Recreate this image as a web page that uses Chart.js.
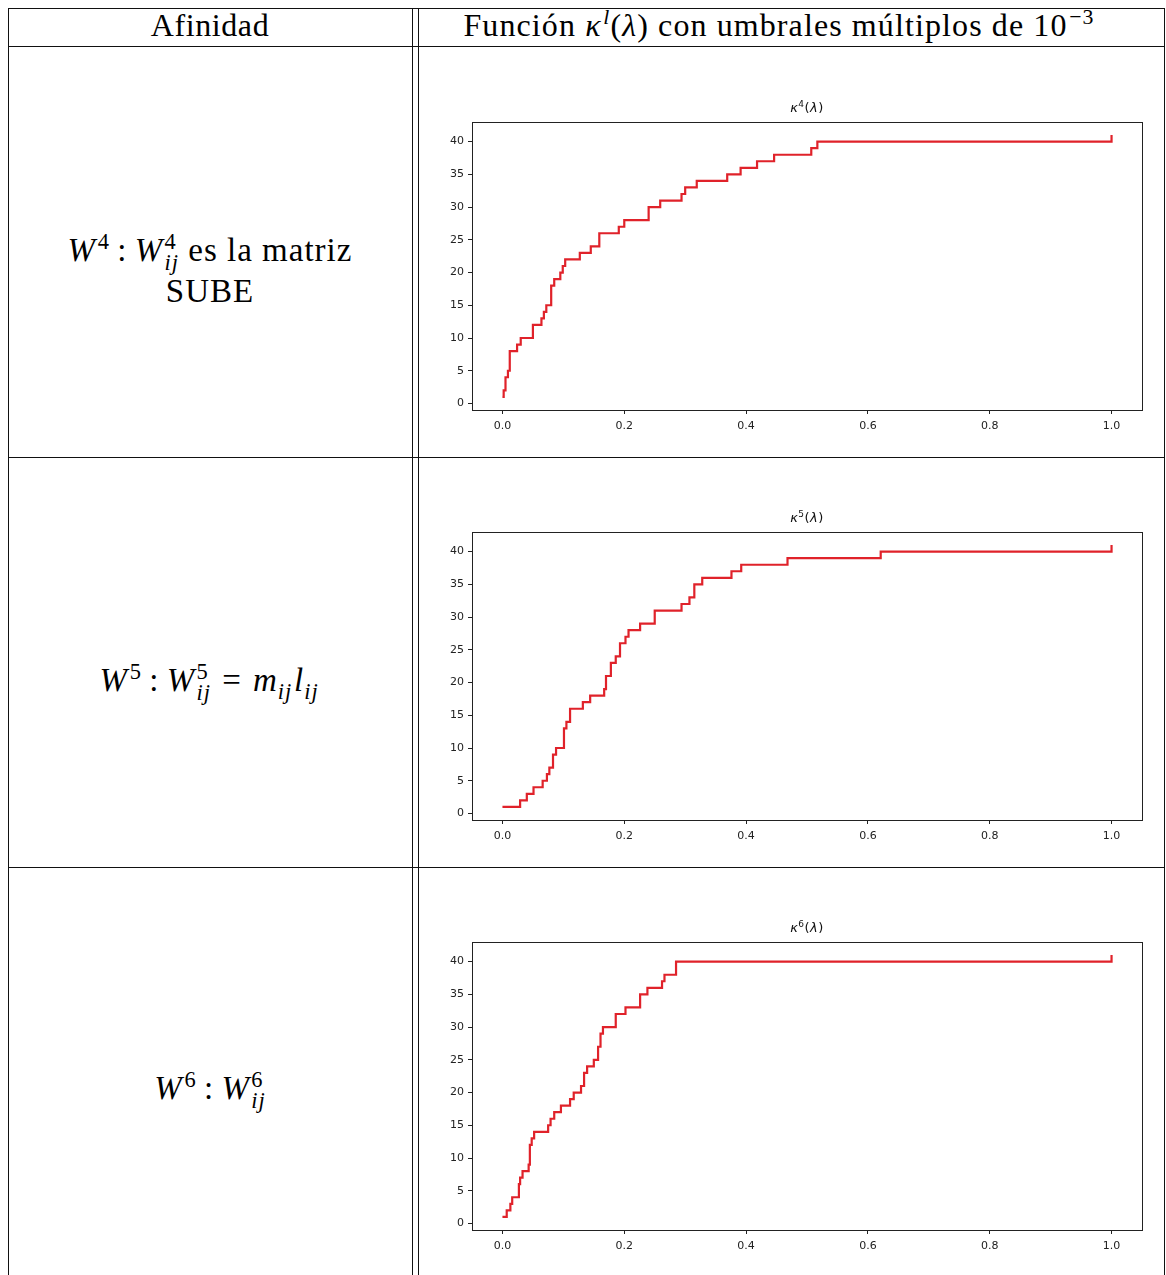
<!DOCTYPE html>
<html lang="es">
<head>
    <meta charset="UTF-8">
    <title>Afinidad y función kappa</title>
    <script src="https://cdn.jsdelivr.net/npm/chart.js"></script>
    <style>
        body {
            margin: 0;
            background: #ffffff;
            width: 1166px;
            height: 1275px;
            overflow: hidden;
            position: relative;
            font-family: "Liberation Serif", "DejaVu Serif", serif;
            color: #000;
        }

        .hline, .vline {
            position: absolute;
            background: #111;
        }
        .hline { height: 1px; }
        .vline { width: 1px; }

        .txt {
            position: absolute;
            text-align: center;
            font-size: 32px;
            letter-spacing: 0.6px;
            line-height: 37px;
            white-space: nowrap;
        }
        .lbl { font-size: 33px; letter-spacing: 1px; line-height: 35px; }

        .ss {
            display: inline-block;
            vertical-align: -0.42em;
            font-size: 0.68em;
            line-height: 0.95;
            text-align: left;
            margin-left: 0.06em;
        }
        .ss span { display: block; }
        sup { font-size: 0.68em; vertical-align: 0.55em; line-height: 0; margin-left: 0.08em; }
        sub { font-size: 0.68em; vertical-align: -0.35em; line-height: 0; margin-right: 0.08em; }
        .rel { margin: 0 0.22em; }
        .eq { margin: 0 0.34em; }

        canvas {
            position: absolute;
            left: 430px;
        }
    </style>
</head>
<body>
    <!-- table rules -->
    <div class="hline" style="left:8px; width:1157px; top:8px"></div>
    <div class="hline" style="left:8px; width:1157px; top:46px"></div>
    <div class="hline" style="left:8px; width:1157px; top:457px"></div>
    <div class="hline" style="left:8px; width:1157px; top:867px"></div>
    <div class="vline" style="left:8px; top:8px; height:1267px"></div>
    <div class="vline" style="left:412px; top:8px; height:1267px"></div>
    <div class="vline" style="left:418px; top:8px; height:1267px"></div>
    <div class="vline" style="left:1164px; top:8px; height:1267px"></div>

    <!-- header -->
    <div class="txt" style="left:8px; width:404px; top:7px">Afinidad</div>
    <div class="txt" style="left:419px; width:720px; top:7px; letter-spacing:1.1px">Función <i>κ</i><sup><i>l</i></sup>(<i>λ</i>) con umbrales múltiplos de 10<sup>−3</sup></div>

    <!-- affinity labels -->
    <div class="txt lbl" style="left:8px; width:404px; top:231px"><i>W</i><sup>4</sup><span class="rel">:</span><i>W</i><span class="ss"><span>4</span><span><i>ij</i></span></span> es la matriz<br>SUBE</div>
    <div class="txt lbl" style="left:8px; width:404px; top:661px"><i>W</i><sup>5</sup><span class="rel">:</span><i>W</i><span class="ss"><span>5</span><span><i>ij</i></span></span><span class="eq">=</span><i>m</i><sub><i>ij</i></sub><i>l</i><sub><i>ij</i></sub></div>
    <div class="txt lbl" style="left:8px; width:404px; top:1069px"><i>W</i><sup>6</sup><span class="rel">:</span><i>W</i><span class="ss"><span>6</span><span><i>ij</i></span></span></div>

    <canvas id="k4" width="730" height="350" style="top:90px"></canvas>
    <canvas id="k5" width="730" height="350" style="top:500px"></canvas>
    <canvas id="k6" width="730" height="350" style="top:910px"></canvas>

    <script>
        // thresholds (lambda) where kappa changes, and the value it takes from there on
        const lam4 = [0, 0.002, 0.005, 0.009, 0.012, 0.024, 0.030, 0.050, 0.064, 0.068, 0.072, 0.080, 0.085, 0.095, 0.099, 0.103, 0.127, 0.145, 0.159, 0.191, 0.200, 0.240, 0.259, 0.294, 0.300, 0.319, 0.369, 0.391, 0.418, 0.446, 0.507, 0.517, 1.0];
        const kappa4 = [1, 2, 4, 5, 8, 9, 10, 12, 13, 14, 15, 18, 19, 20, 21, 22, 23, 24, 26, 27, 28, 30, 31, 32, 33, 34, 35, 36, 37, 38, 39, 40, 41];

        const lam5 = [0, 0.029, 0.040, 0.051, 0.066, 0.073, 0.077, 0.083, 0.088, 0.101, 0.105, 0.111, 0.132, 0.144, 0.167, 0.170, 0.178, 0.186, 0.193, 0.202, 0.207, 0.226, 0.250, 0.294, 0.307, 0.315, 0.328, 0.376, 0.392, 0.468, 0.621, 1.0];
        const kappa5 = [1, 2, 3, 4, 5, 6, 7, 9, 10, 13, 14, 16, 17, 18, 19, 21, 23, 24, 26, 27, 28, 29, 31, 32, 33, 35, 36, 37, 38, 39, 40, 41];

        const lam6 = [0, 0.007, 0.013, 0.016, 0.027, 0.029, 0.033, 0.043, 0.045, 0.048, 0.052, 0.075, 0.079, 0.085, 0.096, 0.111, 0.117, 0.129, 0.134, 0.139, 0.150, 0.157, 0.161, 0.165, 0.186, 0.202, 0.226, 0.238, 0.262, 0.266, 0.285, 1.0];
        const kappa6 = [1, 2, 3, 4, 6, 7, 8, 9, 12, 13, 14, 15, 16, 17, 18, 19, 20, 21, 23, 24, 25, 27, 29, 30, 32, 33, 35, 36, 37, 38, 40, 41];

        const xTicks = [0, 0.2, 0.4, 0.6, 0.8, 1.0];
        const yTicks = [0, 5, 10, 15, 20, 25, 30, 35, 40];

        // box around the plot area plus a mathtext-like title: kappa^l(lambda)
        const frame = {
            id: 'frame',
            afterDraw(chart, args, opts) {
                const { ctx, chartArea: a } = chart;
                ctx.save();
                ctx.strokeStyle = '#222';
                ctx.lineWidth = 1;
                ctx.strokeRect(Math.round(a.left) + 0.5, Math.round(a.top) + 0.5,
                    Math.round(a.right - a.left), Math.round(a.bottom - a.top));

                const parts = [
                    { t: 'κ', f: 'italic 13px "DejaVu Sans"', dy: 0 },
                    { t: opts.level, f: '9px "DejaVu Sans"', dy: -5 },
                    { t: '(', f: '13px "DejaVu Sans"', dy: 0 },
                    { t: 'λ', f: 'italic 13px "DejaVu Sans"', dy: 0 },
                    { t: ')', f: '13px "DejaVu Sans"', dy: 0 }
                ];
                let total = 0;
                parts.forEach(p => { ctx.font = p.f; p.w = ctx.measureText(p.t).width; total += p.w + 0.5; });
                let x = (a.left + a.right) / 2 - total / 2;
                const base = a.top - 10;
                ctx.fillStyle = '#111';
                ctx.textBaseline = 'alphabetic';
                parts.forEach(p => { ctx.font = p.f; ctx.fillText(p.t, x, base + p.dy); x += p.w + 0.5; });
                ctx.restore();
            }
        };

        const tickFont = { family: 'DejaVu Sans', size: 11 };

        function drawKappa(id, level, lam, kappa) {
            new Chart(document.getElementById(id), {
                type: 'line',
                data: {
                    datasets: [{
                        data: lam.map((x, i) => ({ x: x, y: kappa[i] })),
                        borderColor: '#e0222a',
                        borderWidth: 2.2,
                        pointRadius: 0,
                        stepped: 'before',
                        fill: false
                    }]
                },
                options: {
                    responsive: false,
                    animation: false,
                    layout: { padding: { left: 0, right: 18, top: 32, bottom: 0 } },
                    plugins: {
                        legend: { display: false },
                        tooltip: { enabled: false },
                        title: { display: false },
                        frame: { level: level }
                    },
                    scales: {
                        x: {
                            type: 'linear',
                            min: -0.05,
                            max: 1.05,
                            border: { display: false },
                            grid: { drawOnChartArea: false, drawTicks: true, tickLength: 4, color: '#222' },
                            ticks: { color: '#222', font: tickFont, padding: 6, callback: v => v.toFixed(1) },
                            afterBuildTicks: s => { s.ticks = xTicks.map(v => ({ value: v })); },
                            afterFit: s => { s.height = 30; }
                        },
                        y: {
                            min: -1,
                            max: 43,
                            border: { display: false },
                            grid: { drawOnChartArea: false, drawTicks: true, tickLength: 4, color: '#222' },
                            ticks: { color: '#222', font: tickFont, padding: 4 },
                            afterBuildTicks: s => { s.ticks = yTicks.map(v => ({ value: v })); },
                            afterFit: s => { s.width = 42; }
                        }
                    }
                },
                plugins: [frame]
            });
        }

        drawKappa('k4', '4', lam4, kappa4);
        drawKappa('k5', '5', lam5, kappa5);
        drawKappa('k6', '6', lam6, kappa6);
    </script>
</body>
</html>
